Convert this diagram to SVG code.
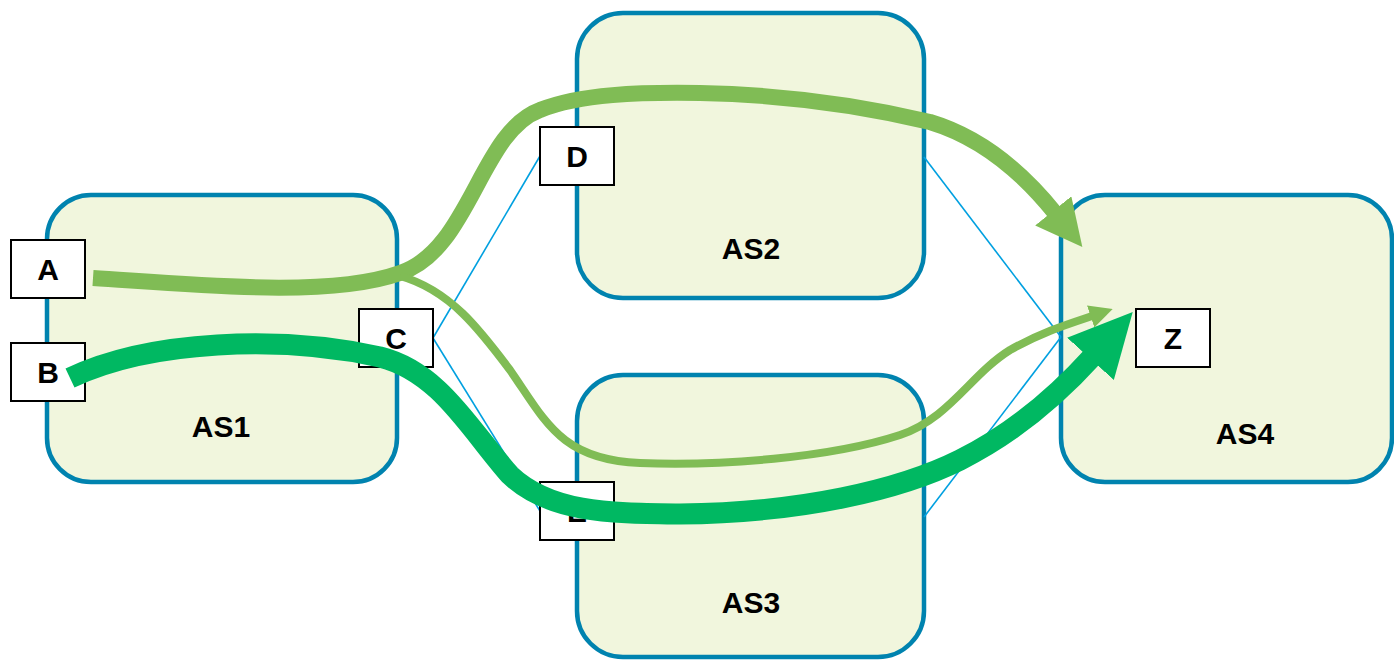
<svg xmlns="http://www.w3.org/2000/svg" width="1394" height="660" viewBox="0 0 1394 660">
  <style>
    .as { fill: #F1F6DD; stroke: #0083AF; stroke-width: 4.5; }
    .node { fill: #FFFFFF; stroke: #000000; stroke-width: 2; }
    .label { font-family: "Liberation Sans", Arial, sans-serif; font-weight: bold; font-size: 30px; fill: #000000; text-anchor: middle; }
    .link { fill: none; stroke: #00A0E0; stroke-width: 1.6; }
    .flow { fill: none; stroke-linecap: butt; }
    .light { stroke: #80BC55; }
    .dark { stroke: #00B862; }
  </style>
  <defs>
    <marker id="headLight" viewBox="0 0 10 10" refX="0.6" refY="5" markerWidth="2.9" markerHeight="2.9" markerUnits="strokeWidth" orient="auto">
      <path d="M0,0 L10,5 L0,10 z" fill="#80BC55"/>
    </marker>
    <marker id="headDark" viewBox="0 0 10 10" refX="0.6" refY="5" markerWidth="3.0" markerHeight="3.0" markerUnits="strokeWidth" orient="auto">
      <path d="M0,0 L10,5 L0,10 z" fill="#00B862"/>
    </marker>
  </defs>

  <!-- autonomous systems -->
  <g id="as1">
    <rect class="as" x="47" y="195" width="350" height="287" rx="44"/>
    <text class="label" x="221" y="437">AS1</text>
  </g>
  <g id="as2">
    <rect class="as" x="577" y="13" width="347" height="285" rx="46"/>
    <text class="label" x="751" y="259">AS2</text>
  </g>
  <g id="as3">
    <rect class="as" x="577" y="375" width="347" height="282" rx="46"/>
    <text class="label" x="751" y="613">AS3</text>
  </g>
  <g id="as4">
    <rect class="as" x="1061" y="195" width="331" height="287" rx="44"/>
    <text class="label" x="1245" y="444">AS4</text>
  </g>

  <!-- physical links -->
  <g id="links">
    <line class="link" x1="433" y1="338" x2="540" y2="156"/>
    <line class="link" x1="433" y1="338" x2="540" y2="511"/>
    <line class="link" x1="924" y1="157" x2="1061" y2="337"/>
    <line class="link" x1="924" y1="517" x2="1061" y2="337"/>
  </g>

  <!-- routers / hosts -->
  <g id="node-a">
    <rect class="node" x="11" y="240" width="74" height="58"/>
    <text class="label" x="48" y="280">A</text>
  </g>
  <g id="node-b">
    <rect class="node" x="11" y="343" width="74" height="58"/>
    <text class="label" x="48" y="383">B</text>
  </g>
  <g id="node-c">
    <rect class="node" x="359" y="309" width="74" height="58"/>
    <text class="label" x="396" y="349">C</text>
  </g>
  <g id="node-d">
    <rect class="node" x="540" y="127" width="74" height="58"/>
    <text class="label" x="577" y="167">D</text>
  </g>
  <g id="node-e">
    <rect class="node" x="540" y="482" width="74" height="58"/>
    <text class="label" x="577" y="522">E</text>
  </g>
  <g id="node-z">
    <rect class="node" x="1136" y="309" width="74" height="58"/>
    <text class="label" x="1173" y="349">Z</text>
  </g>

  <!-- traffic flows -->
  <g id="flows">
    <path class="flow light" stroke-width="16" marker-end="url(#headLight)"
          d="M93,278 C200,285 330,298 400,273 C470,250 480,132 540,110 C580,94 640,92 700,93 C800,95 880,110 930,122 C980,137 1022,172 1055,213"/>
    <path class="flow light" stroke-width="8" marker-end="url(#headLight)"
          d="M400,276 C450,290 480,330 510,370 C545,420 560,460 640,463 C720,466 830,458 900,435 C950,418 970,375 1010,350 C1040,333 1065,325 1092,316"/>
    <path class="flow dark" stroke-width="21" marker-end="url(#headDark)"
          d="M70,378 C150,340 280,335 380,357 C440,372 470,430 510,475 C550,513 610,513 680,514 C800,513 900,490 960,460 C1010,435 1055,398 1093,356"/>
  </g>
</svg>
